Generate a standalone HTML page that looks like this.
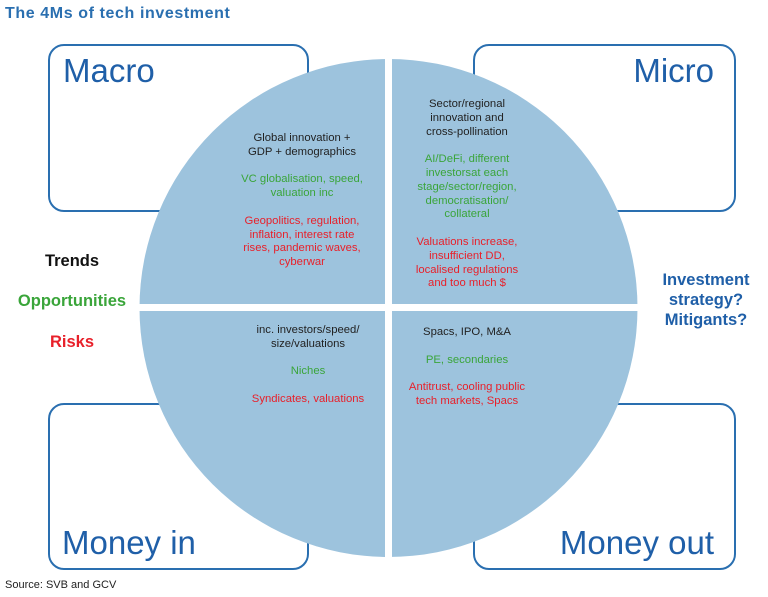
<!DOCTYPE html>
<html><head><style>
body{margin:0;width:768px;height:597px;background:#fff;font-family:"Liberation Sans",sans-serif;position:relative;overflow:hidden}
.a{position:absolute}
.box{position:absolute;border:2px solid #2a6fb0;border-radius:16px;box-sizing:border-box}
.big{position:absolute;font-size:33px;color:#1f5fa8;line-height:1}
.t{position:absolute;font-size:11.3px;line-height:13.8px;text-align:center;color:#222}
.g{color:#3aa53a}.r{color:#e8202a}
.lab{position:absolute;font-size:16.5px;font-weight:bold;text-align:center}
</style></head><body>
<div class="a" style="left:5px;top:5px;font-size:16px;letter-spacing:0.6px;font-weight:bold;color:#2a6fb0">The 4Ms of tech investment</div>
<div class="box" style="left:48px;top:44px;width:261px;height:168px"></div>
<div class="box" style="left:473px;top:44px;width:263px;height:168px"></div>
<div class="box" style="left:48px;top:403px;width:261px;height:167px"></div>
<div class="box" style="left:473px;top:403px;width:263px;height:167px"></div>
<svg class="a" style="left:0;top:0" width="768" height="597">
<circle cx="388.5" cy="308" r="249" fill="#9dc3dd"/>
<rect x="385" y="50" width="7" height="520" fill="#fff"/>
<rect x="130" y="304" width="520" height="7" fill="#fff"/>
</svg>
<div class="big" style="left:63px;top:54px">Macro</div>
<div class="big" style="right:54px;top:54px">Micro</div>
<div class="big" style="left:62px;top:526px">Money in</div>
<div class="big" style="right:54px;top:526px">Money out</div>
<div class="t" style="left:217px;top:132px;width:170px">Global innovation +<br>GDP + demographics<br><br><span class="g">VC globalisation, speed,<br>valuation inc</span><br><br><span class="r">Geopolitics, regulation,<br>inflation, interest rate<br>rises, pandemic waves,<br>cyberwar</span></div>
<div class="t" style="left:387px;top:98px;width:160px">Sector/regional<br>innovation and<br>cross-pollination<br><br><span class="g">AI/DeFi, different<br>investorsat each<br>stage/sector/region,<br>democratisation/<br>collateral</span><br><br><span class="r">Valuations increase,<br>insufficient DD,<br>localised regulations<br>and too much $</span></div>
<div class="t" style="left:223px;top:324px;width:170px">inc. investors/speed/<br>size/valuations<br><br><span class="g">Niches</span><br><br><span class="r">Syndicates, valuations</span></div>
<div class="t" style="left:387px;top:326px;width:160px">Spacs, IPO, M&amp;A<br><br><span class="g">PE, secondaries</span><br><br><span class="r">Antitrust, cooling public<br>tech markets, Spacs</span></div>
<div class="lab" style="left:0;width:144px;top:252px;color:#111">Trends</div>
<div class="lab g" style="left:0;width:144px;top:292px">Opportunities</div>
<div class="lab r" style="left:0;width:144px;top:333px">Risks</div>
<div class="lab" style="left:640px;width:132px;top:270px;line-height:20px;color:#1f5fa8">Investment<br>strategy?<br>Mitigants?</div>
<div class="a" style="left:5px;top:579px;font-size:11px;color:#222">Source: SVB and GCV</div>
</body></html>
